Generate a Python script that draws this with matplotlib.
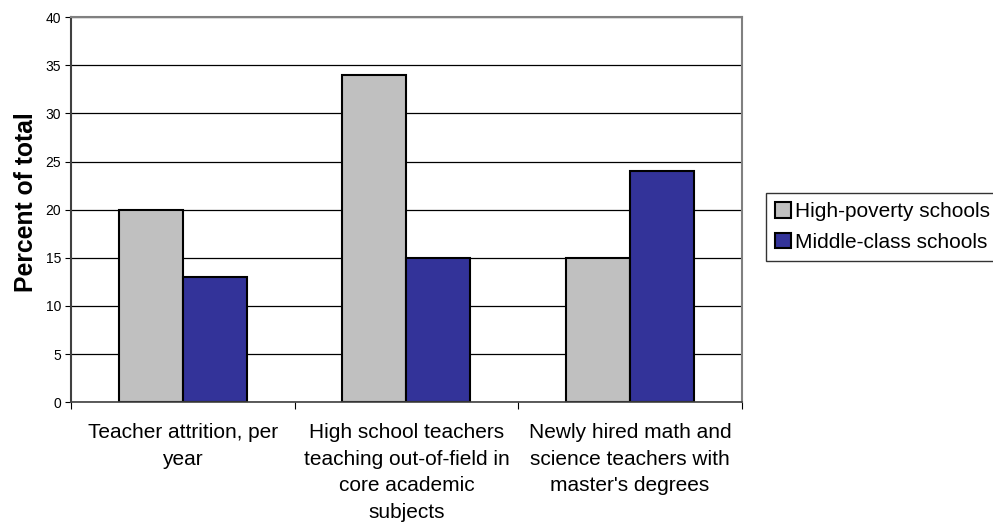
import numpy as np
import matplotlib.pyplot as plt

plt.rcParams["font.family"] = ["Liberation Sans", "DejaVu Sans"]

categories = [
    "Teacher attrition, per\nyear",
    "High school teachers\nteaching out-of-field in\ncore academic\nsubjects",
    "Newly hired math and\nscience teachers with\nmaster's degrees",
]
high_poverty = [20, 34, 15]
middle_class = [13, 15, 24]
series_names = ["High-poverty schools", "Middle-class schools"]


def plot_bars():
    fig = plt.figure(figsize=(9.93, 5.23), dpi=100)
    ax = fig.add_axes([0.0715, 0.231, 0.6755, 0.736])

    x = np.arange(len(categories))
    w = 0.286
    ax.set_axisbelow(True)
    ax.yaxis.grid(True, color="black", linewidth=0.9)
    ax.bar(x - w / 2, high_poverty, w, color="#c0c0c0", edgecolor="black",
           linewidth=1.5, label=series_names[0])
    ax.bar(x + w / 2, middle_class, w, color="#333399", edgecolor="black",
           linewidth=1.5, label=series_names[1])

    ax.set_xlim(-0.5, len(categories) - 0.5)
    ax.set_ylim(0, 40)
    ax.set_yticks(np.arange(0, 41, 5))
    ax.tick_params(axis="y", labelsize=10, length=4, direction="out", pad=3)

    # category ticks sit between groups, labels centred under each group
    ax.set_xticks(np.arange(-0.5, len(categories), 1.0))
    ax.set_xticklabels([])
    ax.set_xticks(x, minor=True)
    ax.set_xticklabels(categories, minor=True, fontsize=15, linespacing=1.5,
                       va="top")
    ax.tick_params(axis="x", which="major", length=5, direction="out")
    ax.tick_params(axis="x", which="minor", length=0, pad=15)

    for side in ["top", "right"]:
        ax.spines[side].set_color("#808080")
        ax.spines[side].set_linewidth(1.5)
    ax.spines["left"].set_color("#404040")
    ax.spines["left"].set_linewidth(1.5)
    ax.spines["bottom"].set_color("#404040")
    ax.spines["bottom"].set_linewidth(1.2)

    ax.set_ylabel("Percent of total", fontsize=17.8, fontweight="bold")
    ax.yaxis.set_label_coords(-0.049, 0.52)

    leg = fig.legend(loc="upper left", bbox_to_anchor=(0.771, 0.631),
                     fontsize=15, frameon=True, fancybox=False,
                     handlelength=0.75, handleheight=0.75, handletextpad=0.2,
                     borderpad=0.45, labelspacing=0.55, borderaxespad=0)
    leg.get_frame().set_edgecolor("black")
    leg.get_frame().set_linewidth(1.0)

    plt.savefig("out.png", dpi=100)


if __name__ == "__main__":
    plot_bars()
